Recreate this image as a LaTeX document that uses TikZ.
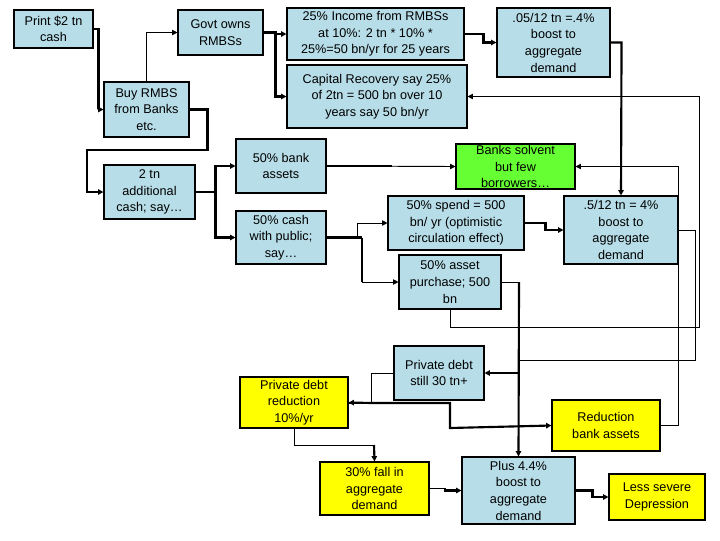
\documentclass[tikz,border=0pt]{standalone}
\usepackage{fontspec}
\setmainfont{Liberation Sans}
\usetikzlibrary{arrows.meta}
\definecolor{bl}{RGB}{183,221,232}
\definecolor{gr}{RGB}{102,255,51}
\definecolor{ye}{RGB}{255,255,0}
\begin{document}
\begin{tikzpicture}[x=0.75pt,y=-0.75pt,
 bx/.style={draw,line width=0.8pt,fill=bl,inner sep=0pt,align=center,font=\fontsize{9.5}{12.5}\selectfont},
 ar/.style={-{Triangle[length=4pt,width=4pt]}},
 tk/.style={line width=1.6pt},
 tn/.style={line width=0.7pt}]
\useasboundingbox (0,0) rectangle (720,540);
\newcommand\bxat[6]{\node[bx,#6,minimum width={(#4-#2)*0.75pt},minimum height={(#5-#3)*0.75pt}] (#1) at ({(#2+#4)/2},{(#3+#5)/2}) {};}
\node[bx,minimum width=59.25pt,minimum height=28.5pt] (print) at (53.5,29) {Print \$2 tn\\cash};
\node[bx,minimum width=63.75pt,minimum height=33.75pt] (govt) at (220.5,32.5) {Govt owns\\RMBSs};
\node[bx,minimum width=132.75pt,minimum height=39pt] (inc) at (375.5,34) {25\% Income from RMBSs\\at 10\%: 2 tn * 10\% *\\25\%=50 bn/yr for 25 years};
\node[bx,minimum width=135pt,minimum height=47.25pt] (cap) at (377,96.5) {Capital Recovery say 25\%\\of 2tn = 500 bn over 10\\years say 50 bn/yr};
\node[bx,minimum width=84.75pt,minimum height=51.75pt] (b05) at (553.5,42.5) {.05/12 tn =.4\%\\boost to\\aggregate\\demand};
\node[bx,minimum width=63.75pt,minimum height=41.25pt] (buy) at (146.5,109.5) {Buy RMBS\\from Banks\\etc.};
\node[bx,minimum width=68.25pt,minimum height=40.5pt] (two) at (149.5,192) {2 tn\\additional\\cash; say\dots};
\node[bx,minimum width=67.5pt,minimum height=40.5pt] (bank) at (281,166) {50\% bank\\assets};
\node[bx,minimum width=67.5pt,minimum height=39.75pt] (cash) at (281,237.5) {50\% cash\\with public;\\say\dots};
\node[bx,fill=gr,minimum width=89.25pt,minimum height=33.75pt] (solv) at (515.5,166.5) {Banks solvent\\but few\\borrowers\dots};
\node[bx,minimum width=102pt,minimum height=40.5pt] (spend) at (456,223) {50\% spend = 500\\bn/ yr (optimistic\\circulation effect)};
\node[bx,minimum width=85.5pt,minimum height=51pt] (b5) at (621,230) {.5/12 tn = 4\%\\boost to\\aggregate\\demand};
\node[bx,minimum width=76.5pt,minimum height=40.5pt] (asset) at (450,282) {50\% asset\\purchase; 500\\bn};
\node[bx,minimum width=67.5pt,minimum height=40.5pt] (pds) at (439,373) {Private debt\\still 30 tn+};
\node[bx,fill=ye,minimum width=81pt,minimum height=38.25pt] (pdr) at (294,402.5) {Private debt\\reduction\\10\%/yr};
\node[bx,fill=ye,minimum width=81pt,minimum height=38.25pt] (red) at (606,425.5) {Reduction\\bank assets};
\node[bx,fill=ye,minimum width=81.75pt,minimum height=39.75pt] (fall) at (374.5,488.5) {30\% fall in\\aggregate\\demand};
\node[bx,minimum width=84.75pt,minimum height=50.25pt] (plus) at (518.5,490.5) {Plus 4.4\%\\boost to\\aggregate\\demand};
\node[bx,fill=ye,minimum width=72pt,minimum height=34.5pt] (less) at (657,497) {Less severe\\Depression};
% connectors
\draw[tk,ar] (print.east) -- ++(5,0) |- (buy.west);
\draw[tn,ar] (buy.north) |- (govt.west);
\draw[tk,ar] (govt.east) -- ++(12,0) |- (inc.west);
\draw[tk,ar] (govt.east) -- ++(12,0) |- (cap.west);
\draw[tk,ar] (buy.east) -- ++(18,0) |- (87,150) |- (two.west);
\draw[tk,ar] (two.east) -- ++(20,0) |- (bank.west);
\draw[tk,ar] (two.east) -- ++(20,0) |- (cash.west);
\draw[tk] (bank.east) -- ++(65,0);
\draw[tn,ar] (bank.east) -- (solv.west);
\draw[tk] (cash.east) -- (362,237.5);
\draw[tn,ar] (357,237.5) |- (spend.west);
\draw[tk] (362,237.5) -- (362,282);
\draw[tn,ar] (362,282) -- (asset.west);
\draw[tk,ar] (inc.east) -- ++(19,0) |- (b05.west);
\draw[tk,ar] (b05.east) -- ++(11,0) -- (b5.north);
\draw[tk,ar] (spend.east) -- ++(21,0) |- (b5.west);
\draw[tn] (asset.east) -- (519,282);
\draw[tk,ar] (519,282) -- (plus.north);
\draw[tk,ar] (519,373) -- (pds.east);
\draw[tn,ar] (asset.south) |- (699,327) |- (cap.east);
\draw[tn] (b5.east) -- (695,230) |- (519,360);
\draw[tn,ar] (red.east) -| (678,166.5) -- (solv.east);
\draw[tn] (pds.west) -- ++(-22,0) |- (348,403);
\draw[tk,ar] (372,403) -- (pdr.east);
\draw[tk,ar] (372,403) -| (450,428) -- (red.west);
\draw[tn] (pdr.south) |- (374,445);
\draw[tk,ar] (374,445) -- (fall.north);
\draw[tn] (fall.east) -- ++(16,0);
\draw[tk,ar] (445,488.5) |- (plus.west);
\draw[tk,ar] (plus.east) -- ++(17,0) |- (less.west);
\end{tikzpicture}
\end{document}
